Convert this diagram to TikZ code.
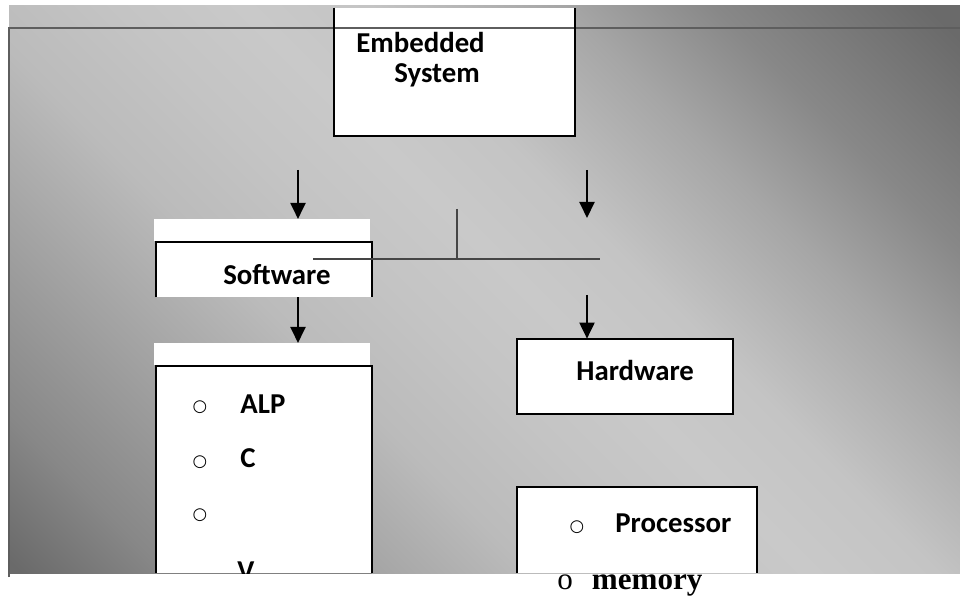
\documentclass[tikz,border=0pt]{standalone}
\usepackage{fontspec}
\setmainfont{Carlito}
\newfontfamily\timesfont{Liberation Serif}
\newfontfamily\symfont{DejaVu Sans}
\usetikzlibrary{arrows.meta,positioning,calc}
\definecolor{bgdark}{HTML}{6A6A6A}
\definecolor{bgdim}{HTML}{888888}
\definecolor{bgmid}{HTML}{A6A6A6}
\definecolor{bgsoft}{HTML}{BBBBBB}
\definecolor{bgpale}{HTML}{C4C4C4}
\definecolor{bglight}{HTML}{C9C9C9}
\definecolor{rulegray}{HTML}{5E5E5E}
\definecolor{busgray}{HTML}{454545}
\pgfdeclarehorizontalshading{slide}{100bp}{color(0bp)=(bgdark); color(15bp)=(bgdark);
  color(22bp)=(bgdim); color(32bp)=(bgmid); color(39bp)=(bgsoft); color(46bp)=(bgpale);
  color(52bp)=(bglight); color(58bp)=(bgpale); color(67bp)=(bgmid); color(74bp)=(bgdim);
  color(84bp)=(bgdark); color(100bp)=(bgdark)}
\tikzset{
  sheet/.style={fill=white, inner sep=0pt},
  edge/.style={draw=black, line width=0.04cm},
  framerule/.style={draw=rulegray, line width=0.03cm},
  busline/.style={draw=busgray, line width=0.04cm},
  arr/.style={-{Triangle[length=0.32cm, width=0.3cm]}, line width=0.04cm, color=black},
  lbl/.style={font=\fontsize{16.4}{19}\selectfont\bfseries, inner sep=0pt, anchor=base west},
  dot/.style={font=\symfont\fontsize{9.5}{10}\selectfont, inner sep=0pt}}
\begin{document}
\begin{tikzpicture}[x=0.02cm, y=-0.02cm]
  \useasboundingbox (0,0) rectangle (960,597);
  % slide background
  \shade[shading=slide, shading angle=45] (9,6) rectangle (960,573);

  % boxes
  \node[sheet, minimum width=4.82cm, minimum height=2.56cm] (emb) at (454.5,72) {};
  \node[sheet, minimum width=4.32cm, minimum height=1.1cm] (sw) at (264,269.5) {};
  \node[sheet, minimum width=4.32cm, minimum height=0.44cm, above=0pt of sw, xshift=-0.04cm] (swcap) {};
  \node[sheet, minimum width=4.32cm, minimum height=4.14cm] (swlist) at (264,469.5) {};
  \node[sheet, minimum width=4.32cm, minimum height=0.44cm, above=0pt of swlist, xshift=-0.04cm] (swlistcap) {};
  \node[sheet, minimum width=4.32cm, minimum height=1.5cm] (hw) at (625,376.5) {};
  \node[sheet, minimum width=4.8cm, minimum height=1.72cm] (hwlist) at (637,530) {};

  \draw[framerule] (9,577) -- (9,28) -- (960,28);

  \draw[edge] (emb.north west) -- (emb.south west) -- (emb.south east) -- (emb.north east);
  \draw[edge] (sw.south west) -- (sw.north west) -- (sw.north east) -- (sw.south east);
  \draw[edge] (swlist.south west) -- (swlist.north west) -- (swlist.north east) -- (swlist.south east);
  \draw[draw=gray, line width=0.03cm] (swlist.south west) -- (swlist.south east);
  \draw[edge] (hw.north west) rectangle (hw.south east);
  \draw[edge] (hwlist.south west) -- (hwlist.north west) -- (hwlist.north east) -- (hwlist.south east);

  % connectors
  \coordinate (swin) at (298,170);
  \coordinate (hwin) at (587,170);
  \coordinate (hwend) at (587,218);
  \coordinate (busL) at (313,259);
  \coordinate (busR) at (600,259);
  \coordinate (stem) at (457,209);
  \coordinate (hwdrop) at (587,295);
  \draw[arr] (swin) -- (swin |- swcap.north);
  \draw[arr] (hwin) -- (hwend);
  \draw[busline] (busL) -- (busR);
  \draw[busline] (stem) -- (stem |- busL);
  \draw[arr] (swin |- sw.south) -- (swin |- swlistcap.north);
  \draw[arr] (hwdrop) -- (hwdrop |- hw.north);

  % labels
  \node[lbl] (embtxt) at (356,53) {Embedded};
  \node[lbl] (systxt) at (394,83) {System};
  \node[lbl] (swtxt) at (223,285) {Software};
  \node[lbl] (hwtxt) at (576,381) {Hardware};
  \node[dot] (b1) at (200,407) {○};
  \node[dot] (b2) at (200,462) {○};
  \node[dot] (b3) at (200,515) {○};
  \node[lbl] (alp) at (240,414) {ALP};
  \node[lbl] (ctxt) at (240,468) {C};
  \begin{scope}
    \clip (150,300) rectangle (380,573);
    \node[lbl] (vtxt) at (237,581) {V};
  \end{scope}
  \node[dot] (b4) at (577,527) {○};
  \node[lbl] (proc) at (615,533) {Processor};
  \node[lbl, font=\timesfont\fontsize{17.7}{20}\selectfont] (mem) at (557,589) {o\hspace*{0.38cm}\textbf{memory}};
\end{tikzpicture}
\end{document}
